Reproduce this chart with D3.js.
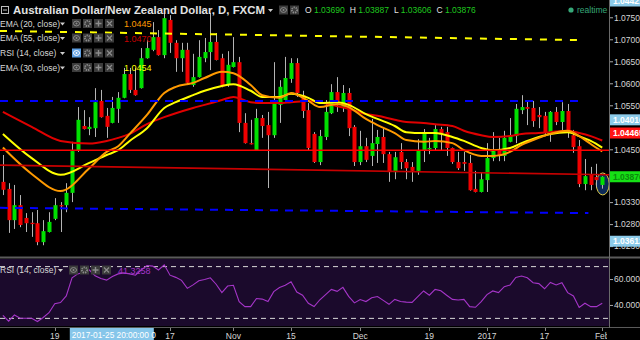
<!DOCTYPE html>
<html>
<head>
<meta charset="utf-8">
<script src="https://cdnjs.cloudflare.com/ajax/libs/d3/7.8.5/d3.min.js"></script>
<style>
body { margin: 0; background: #000; }
svg { display: block; }
text { font-family: "Liberation Sans", Arial, sans-serif; }
</style>
</head>
<body>
<div id="chart"></div>
<script>
// AUD/NZD daily candles
const opens = [1.0376, 1.0360, 1.0289, 1.0323, 1.0294, 1.0283, 1.0282, 1.0239, 1.0262, 1.0292,
    1.0323, 1.0323, 1.0351, 1.0448, 1.0503, 1.0496, 1.0498, 1.0560, 1.0526, 1.0510,
    1.0542, 1.0567, 1.0621, 1.0585, 1.0589, 1.0657, 1.0676, 1.0705, 1.0664, 1.0744,
    1.0692, 1.0657, 1.0676, 1.0596, 1.0614, 1.0657, 1.0671, 1.0694, 1.0657, 1.0596,
    1.0637, 1.0648, 1.0510, 1.0464, 1.0448, 1.0521, 1.0505, 1.0482, 1.0551, 1.0562,
    1.0610, 1.0646, 1.0573, 1.0539, 1.0485, 1.0421, 1.0478, 1.0532, 1.0580, 1.0546,
    1.0578, 1.0501, 1.0421, 1.0457, 1.0435, 1.0462, 1.0478, 1.0439, 1.0398, 1.0444,
    1.0421, 1.0410, 1.0401, 1.0448, 1.0451, 1.0453, 1.0496, 1.0489, 1.0453, 1.0421,
    1.0421, 1.0419, 1.0360, 1.0353, 1.0380, 1.0430, 1.0448, 1.0435, 1.0467, 1.0480,
    1.0539, 1.0546, 1.0544, 1.0528, 1.0526, 1.0489, 1.0535, 1.0512, 1.0537, 1.0482,
    1.0457, 1.0371, 1.0392, 1.0387, 1.03690]
const highs = [1.0437, 1.0373, 1.0369, 1.0346, 1.0305, 1.0307, 1.0312, 1.0289, 1.0307, 1.0339,
    1.0330, 1.0373, 1.0467, 1.0546, 1.0539, 1.0523, 1.0589, 1.0585, 1.0544, 1.0569,
    1.0580, 1.0635, 1.0635, 1.0635, 1.0680, 1.0698, 1.0739, 1.0721, 1.0760, 1.0755,
    1.0698, 1.0692, 1.0692, 1.0667, 1.0698, 1.0703, 1.0760, 1.0714, 1.0667, 1.0673,
    1.0705, 1.0660, 1.0532, 1.0517, 1.0542, 1.0528, 1.0535, 1.0648, 1.0607, 1.0660,
    1.0657, 1.0657, 1.0583, 1.0555, 1.0489, 1.0494, 1.0562, 1.0598, 1.0614, 1.0596,
    1.0589, 1.0505, 1.0492, 1.0476, 1.0519, 1.0494, 1.0498, 1.0444, 1.0444, 1.0464,
    1.0428, 1.0421, 1.0473, 1.0496, 1.0476, 1.0505, 1.0501, 1.0501, 1.0454, 1.0444,
    1.0444, 1.0437, 1.0401, 1.0398, 1.0464, 1.0489, 1.0476, 1.0492, 1.0521, 1.0553,
    1.0573, 1.0560, 1.0560, 1.0546, 1.0535, 1.0537, 1.0546, 1.0557, 1.0553, 1.0494,
    1.0471, 1.0428, 1.0410, 1.0417, 1.03887]
const lows = [1.0346, 1.0260, 1.0269, 1.0273, 1.0262, 1.0251, 1.0232, 1.0232, 1.0261, 1.0289,
    1.0262, 1.0307, 1.0330, 1.0444, 1.0495, 1.0482, 1.0478, 1.0522, 1.0476, 1.0509,
    1.0510, 1.0566, 1.0578, 1.0572, 1.0588, 1.0656, 1.0673, 1.0663, 1.0657, 1.0669,
    1.0626, 1.0626, 1.0596, 1.0592, 1.0613, 1.0648, 1.0630, 1.0652, 1.0591, 1.0592,
    1.0636, 1.0489, 1.0463, 1.0461, 1.0447, 1.0476, 1.0362, 1.0476, 1.0510, 1.0561,
    1.0601, 1.0569, 1.0521, 1.0448, 1.0419, 1.0414, 1.0471, 1.0530, 1.0535, 1.0535,
    1.0480, 1.0412, 1.0414, 1.0421, 1.0412, 1.0419, 1.0419, 1.0376, 1.0382, 1.0405,
    1.0382, 1.0376, 1.0392, 1.0421, 1.0439, 1.0448, 1.0448, 1.0435, 1.0417, 1.0403,
    1.0401, 1.0356, 1.0352, 1.0352, 1.0353, 1.0423, 1.0423, 1.0423, 1.0466, 1.0464,
    1.0530, 1.0505, 1.0501, 1.0498, 1.0480, 1.0467, 1.0505, 1.0489, 1.0476, 1.0442,
    1.0364, 1.0357, 1.0357, 1.0364, 1.03606]
const closes = [1.0358, 1.0289, 1.0323, 1.0278, 1.0282, 1.0280, 1.0239, 1.0264, 1.0285, 1.0323,
    1.0321, 1.0351, 1.0446, 1.0517, 1.0496, 1.0501, 1.0557, 1.0523, 1.0501, 1.0544,
    1.0567, 1.0621, 1.0585, 1.0573, 1.0657, 1.0680, 1.0705, 1.0664, 1.0748, 1.0692,
    1.0657, 1.0676, 1.0601, 1.0614, 1.0660, 1.0671, 1.0694, 1.0653, 1.0592, 1.0642,
    1.0648, 1.0510, 1.0464, 1.0462, 1.0521, 1.0503, 1.0482, 1.0553, 1.0592, 1.0612,
    1.0646, 1.0578, 1.0537, 1.0453, 1.0421, 1.0480, 1.0535, 1.0580, 1.0560, 1.0578,
    1.0498, 1.0421, 1.0457, 1.0426, 1.0464, 1.0478, 1.0439, 1.0398, 1.0432, 1.0421,
    1.0407, 1.0401, 1.0448, 1.0489, 1.0453, 1.0496, 1.0487, 1.0453, 1.0421, 1.0407,
    1.0417, 1.0357, 1.0353, 1.0382, 1.0430, 1.0446, 1.0437, 1.0476, 1.0482, 1.0542,
    1.0546, 1.0542, 1.0514, 1.0523, 1.0487, 1.0535, 1.0512, 1.0537, 1.0489, 1.0455,
    1.0371, 1.0389, 1.0369, 1.0380, 1.03876]

// moving averages, sampled at these candle indexes
const emaIdx = [0, 5, 10, 15, 18, 20, 22, 25, 28, 30, 33, 35, 38, 40, 43, 45, 48, 50, 53, 55,
    58, 60, 63, 65, 68, 70, 73, 75, 78, 80, 83, 85, 88, 90, 93, 95, 98, 100, 102, 104]
const ema20 = [1.0454, 1.0394, 1.0355, 1.0407, 1.0444, 1.0457, 1.0485, 1.0528, 1.0578, 1.0592,
    1.0601, 1.0612, 1.0626, 1.0623, 1.0596, 1.0573, 1.0567, 1.0578, 1.0560, 1.0546,
    1.0553, 1.0546, 1.0519, 1.0505, 1.0487, 1.0471, 1.0467, 1.0469, 1.0464, 1.0448,
    1.0435, 1.0435, 1.0444, 1.0460, 1.0476, 1.0485, 1.0492, 1.0480, 1.0462, 1.0445]
const ema30 = [1.0485, 1.0430, 1.0392, 1.0419, 1.0437, 1.0448, 1.0469, 1.0498, 1.0544, 1.0557,
    1.0573, 1.0583, 1.0594, 1.0598, 1.0583, 1.0569, 1.0569, 1.0576, 1.0567, 1.0555,
    1.0557, 1.0551, 1.0530, 1.0519, 1.0503, 1.0489, 1.0487, 1.0487, 1.0478, 1.0469,
    1.0453, 1.0448, 1.0453, 1.0464, 1.0478, 1.0485, 1.0489, 1.0480, 1.0469, 1.0454]
const ema55 = [1.0535, 1.0501, 1.0469, 1.0463, 1.0469, 1.0476, 1.0485, 1.0507, 1.0523, 1.0532,
    1.0544, 1.0551, 1.0562, 1.0569, 1.0557, 1.0555, 1.0555, 1.0557, 1.0560, 1.0557,
    1.0548, 1.0542, 1.0530, 1.0526, 1.0517, 1.0512, 1.0510, 1.0507, 1.0503, 1.0492,
    1.0482, 1.0478, 1.0480, 1.0485, 1.0487, 1.0489, 1.0492, 1.0487, 1.0480, 1.0470]

const rsi = [32, 27.5, 32.3, 29.7, 29.7, 29.7, 27.2, 30.3, 34, 41,
    41.8, 47, 61, 64, 65.3, 67, 62.5, 60.5, 59.2, 62,
    64, 64.8, 64, 63, 67, 70.5, 70, 67, 71, 63,
    61.3, 59, 52.8, 55.5, 58.7, 59.7, 61, 56, 49.5, 54.6,
    55.2, 42.6, 38.7, 38.7, 45, 44.5, 42.6, 50.3, 53.4, 55.2,
    57.9, 50, 47.5, 41.3, 38.8, 44, 48, 52, 50.5, 53.6,
    46.6, 41.6, 44.2, 42.6, 45.5, 46.5, 43.5, 40.5, 44.3, 42.6,
    42.2, 42, 46.4, 50.8, 47.5, 52, 51, 47.5, 44.3, 43.8,
    44.3, 38.7, 38.2, 42.6, 48, 50.8, 49.5, 54.1, 55.4, 61.3,
    62.3, 61, 57.2, 56.5, 52.5, 57.4, 55.4, 57.2, 49.5, 46.9,
    38, 41.3, 38.7, 38.7, 41.3258]

// drawn trend lines: [candle index, price] at each end
const yellowTrend = [[-0.5, 1.0719], [100.7, 1.0698]]
const blueUpper = [[-0.5, 1.0560], [100.7, 1.0560]]
const blueLower = [[-0.5, 1.0317], [101.6, 1.0305]]
const redLevel = [[-0.5, 1.0448], [106, 1.0448]]
const redSlope = [[-0.5, 1.0414], [106, 1.0392]]

const priceTicks = [1.075, 1.07, 1.065, 1.06, 1.055, 1.045, 1.033, 1.028, 1.023]
const rsiTicks = [60, 40]
const dateIdx = [9, 29, 40, 50, 62, 74, 84, 94, 104]
const dateLabels = ["19", "17", "Nov", "15", "Dec", "19", "2017", "17", "Feb"]
const badgeTexts = ["1.04421", "1.04016", "1.04465", "1.03876", "1.03612"]
const badgeAt = [1.0787, 1.0517, 1.0487, 1.03876, 1.0241]
const legendNames = ["EMA (20, close)", "EMA (55, close)", "RSI (14, close)", "EMA (30, close)"]

var width = 640, height = 340
var plotW = 609
var mainH = 256

var svg = d3.select("#chart").append("svg")
    .attr("width", width)
    .attr("height", height)

svg.append("rect").attr("width", width).attr("height", height).attr("fill", "#000")

var x = d3.scaleLinear().domain([-0.5, 105]).range([0, plotW - 1])
var y = d3.scaleLinear().domain([1.02075, 1.07893]).range([mainH, 0])
var yr = d3.scaleLinear().domain([24.5, 75.5]).range([325, 259])

svg.append("clipPath").attr("id", "mainClip")
    .append("rect").attr("width", plotW).attr("height", mainH)
svg.append("clipPath").attr("id", "rsiClip")
    .append("rect").attr("y", 259).attr("width", plotW).attr("height", 67)
svg.append("clipPath").attr("id", "dateClip")
    .append("rect").attr("y", 328).attr("width", plotW - 2).attr("height", 12)

var candles = opens.map((o, i) => ({ i: i, o: o, h: highs[i], l: lows[i], c: closes[i] }))

var main = svg.append("g").attr("clip-path", "url(#mainClip)")

// last candle marker
var last = candles[candles.length - 1]
main.append("ellipse")
    .attr("cx", x(last.i) + 0.5)
    .attr("cy", (y(last.h) + y(last.l)) / 2 + 1.5)
    .attr("rx", 6.5).attr("ry", 11)
    .attr("fill", "#0c2a57")
    .attr("stroke", "#e6d24a").attr("stroke-width", 1)

// wicks
main.selectAll(".wick")
    .data(candles)
    .enter().append("line")
    .attr("class", "wick")
    .attr("x1", d => Math.round(x(d.i)) + 0.5)
    .attr("x2", d => Math.round(x(d.i)) + 0.5)
    .attr("y1", d => y(d.h))
    .attr("y2", d => y(d.l))
    .attr("stroke", "#b4b4b4")
    .attr("stroke-width", 1)

// bodies
main.selectAll(".body")
    .data(candles)
    .enter().append("rect")
    .attr("class", "body")
    .attr("x", d => Math.round(x(d.i)) - 1.5)
    .attr("width", 4)
    .attr("y", d => y(Math.max(d.o, d.c)))
    .attr("height", d => Math.max(1.2, Math.abs(y(d.o) - y(d.c))))
    .attr("fill", d => d.c >= d.o ? "#00e000" : "#f00000")

// moving averages
var emaLine = d3.line()
    .x((d, k) => x(emaIdx[k]))
    .y(d => y(d))
    .curve(d3.curveMonotoneX)

var emas = [
    { values: ema55, color: "#e00000" },
    { values: ema30, color: "#ffff00" },
    { values: ema20, color: "#ff9a00" }
]
emas.forEach(e => {
    main.append("path")
        .attr("d", emaLine(e.values))
        .attr("fill", "none")
        .attr("stroke", e.color)
        .attr("stroke-width", 2)
})

// drawings
var seg = d3.line().x(d => x(d[0])).y(d => y(d[1]))
main.append("path").attr("d", seg(redLevel)).attr("stroke", "#ff0000").attr("stroke-width", 1.6).attr("fill", "none")
main.append("path").attr("d", seg(redSlope)).attr("stroke", "#c80000").attr("stroke-width", 1.6).attr("fill", "none")
main.append("path").attr("d", seg(yellowTrend)).attr("stroke", "#ffff00").attr("stroke-width", 2)
    .attr("stroke-dasharray", "7,8").attr("fill", "none")
main.append("path").attr("d", seg(blueUpper)).attr("stroke", "#0000ff").attr("stroke-width", 2)
    .attr("stroke-dasharray", "8,7").attr("fill", "none")
main.append("path").attr("d", seg(blueLower)).attr("stroke", "#0000ff").attr("stroke-width", 2)
    .attr("stroke-dasharray", "8,7").attr("fill", "none")

// RSI pane
svg.append("rect")
    .attr("x", 0).attr("y", 259).attr("width", plotW).attr("height", 67)
    .attr("fill", "#1b0a2c")

var rsiG = svg.append("g").attr("clip-path", "url(#rsiClip)")
;[70, 30].forEach(v => {
    rsiG.append("line")
        .attr("x1", 0).attr("x2", plotW)
        .attr("y1", yr(v) + 0.5).attr("y2", yr(v) + 0.5)
        .attr("stroke", "#d8d8d8").attr("stroke-width", 1)
        .attr("stroke-dasharray", "5,4")
})
rsiG.append("path")
    .attr("d", d3.line().x((d, i) => x(i)).y(d => yr(d))(rsi))
    .attr("fill", "none")
    .attr("stroke", "#a535c8")
    .attr("stroke-width", 1.1)

// frame lines
svg.append("line").attr("x1", 0).attr("x2", width).attr("y1", 257.5).attr("y2", 257.5)
    .attr("stroke", "#5a5a5a").attr("stroke-width", 2)
svg.append("line").attr("x1", 0).attr("x2", width).attr("y1", 327.5).attr("y2", 327.5)
    .attr("stroke", "#5a5a5a").attr("stroke-width", 1)
svg.append("line").attr("x1", plotW + 0.5).attr("x2", plotW + 0.5).attr("y1", 0).attr("y2", 328)
    .attr("stroke", "#6a6a6a").attr("stroke-width", 1)

// price axis
var fmt5 = d3.format(".5f")
var yAxisCall = d3.axisRight(y)
    .tickValues(priceTicks)
    .tickSize(3)
    .tickFormat(fmt5)
var yAxis = svg.append("g")
    .attr("transform", "translate(" + (plotW + 1) + ",0)")
    .call(yAxisCall)
yAxis.select(".domain").remove()
yAxis.selectAll("line").attr("stroke", "#aaa")
yAxis.selectAll("text")
    .attr("x", 4)
    .attr("fill", "#d6d6d6")
    .style("font-size", "8.5px")
    .style("font-family", "Liberation Sans, Arial, sans-serif")

var rsiAxisCall = d3.axisRight(yr)
    .tickValues(rsiTicks)
    .tickSize(3)
    .tickFormat(d3.format(".4f"))
var rsiAxis = svg.append("g")
    .attr("transform", "translate(" + (plotW + 1) + ",0)")
    .call(rsiAxisCall)
rsiAxis.select(".domain").remove()
rsiAxis.selectAll("line").attr("stroke", "#aaa")
rsiAxis.selectAll("text")
    .attr("x", 4)
    .attr("fill", "#d6d6d6")
    .style("font-size", "8.5px")
    .style("font-family", "Liberation Sans, Arial, sans-serif")

// value badges on the price axis
var badgeStyle = [
    { fill: "#8ccbea", text: "#ffffff" },
    { fill: "#8ccbea", text: "#ffffff" },
    { fill: "#ff1414", text: "#ffffff" },
    { fill: "#16e016", text: "#0c8a0c" },
    { fill: "#8ccbea", text: "#ffffff" }
]
var badge = svg.selectAll(".badge")
    .data(badgeTexts)
    .enter().append("g")
    .attr("class", "badge")
    .attr("transform", (d, i) => "translate(" + (plotW + 1) + "," + y(badgeAt[i]) + ")")
badge.append("rect")
    .attr("x", 0).attr("y", -5.5).attr("width", 31).attr("height", 11)
    .attr("fill", (d, i) => badgeStyle[i].fill)
badge.append("text")
    .attr("x", 3).attr("y", 3)
    .attr("fill", (d, i) => badgeStyle[i].text)
    .style("font-size", "8.5px")
    .style("font-weight", "bold")
    .text(d => d)

// date axis
var xAxis = svg.append("g").attr("clip-path", "url(#dateClip)")
xAxis.selectAll("line")
    .data(dateIdx)
    .enter().append("line")
    .attr("x1", d => Math.round(x(d)) + 0.5).attr("x2", d => Math.round(x(d)) + 0.5)
    .attr("y1", 328).attr("y2", 331)
    .attr("stroke", "#888")
xAxis.selectAll("text")
    .data(dateLabels)
    .enter().append("text")
    .attr("x", (d, i) => x(dateIdx[i]))
    .attr("y", 338.5)
    .attr("text-anchor", "middle")
    .attr("fill", "#d6d6d6")
    .style("font-size", "8.5px")
    .text(d => d)

// crosshair date label
var cross = svg.append("g").attr("transform", "translate(" + x(18.9) + ",0)")
cross.append("rect").attr("x", -42).attr("y", 328).attr("width", 84).attr("height", 12).attr("fill", "#86c6ea")
cross.append("text").attr("x", -40).attr("y", 337.5).attr("fill", "#fff")
    .style("font-size", "8.3px").text("2017-01-25 20:00:00 0")

// header
var head = svg.append("g")
head.append("rect").attr("x", 1.5).attr("y", 6.5).attr("width", 7).attr("height", 7)
    .attr("fill", "none").attr("stroke", "#bbb")
head.append("line").attr("x1", 3).attr("x2", 7).attr("y1", 10).attr("y2", 10).attr("stroke", "#bbb")
head.append("text")
    .attr("x", 13).attr("y", 14)
    .attr("fill", "#e2e2e2")
    .style("font-size", "11.4px")
    .style("font-weight", "bold")
    .text("Australian Dollar/New Zealand Dollar, D, FXCM")

function arrow(g, ax, ay) {
    g.append("path")
        .attr("d", "M" + ax + "," + ay + "l5,0l-2.5,3z")
        .attr("fill", "#ccc")
}
arrow(head, 268, 9)

function addIcons(g, x0, yc, n, active) {
    for (var k = 0; k < n; k++) {
        var ix = x0 + k * 11
        var on = active && k == 0
        var c = on ? "#ffffff" : "#8c8c8c"
        g.append("rect")
            .attr("x", ix).attr("y", yc - 4.5).attr("width", 9).attr("height", 9)
            .attr("fill", on ? "#5d9ee2" : "#3b3b3b")
        var cx = ix + 4.5
        if (k == 0) {
            g.append("ellipse").attr("cx", cx).attr("cy", yc).attr("rx", 3).attr("ry", 2.4)
                .attr("fill", "none").attr("stroke", c).attr("stroke-width", 1)
            g.append("circle").attr("cx", cx).attr("cy", yc).attr("r", 1).attr("fill", c)
        } else if (k == 1) {
            g.append("circle").attr("cx", cx).attr("cy", yc).attr("r", 2.6)
                .attr("fill", "none").attr("stroke", c).attr("stroke-width", 1.8)
                .attr("stroke-dasharray", "1.3,0.9")
        } else if (k == 2) {
            g.append("path").attr("d", "M" + (cx - 3) + "," + yc + "h6M" + cx + "," + (yc - 3) + "v6")
                .attr("stroke", c).attr("stroke-width", 1.4)
        } else {
            g.append("path").attr("d", "M" + (cx - 2.5) + "," + (yc - 2.5) + "l5,5M" + (cx + 2.5) + "," + (yc - 2.5) + "l-5,5")
                .attr("stroke", c).attr("stroke-width", 1.2)
        }
    }
}
addIcons(head, 279, 10, 2, false)

// OHLC readout for the last candle
var ohlc = head.append("text").attr("x", 305).attr("y", 13).style("font-size", "8.5px")
;[["O", last.o], ["H", last.h], ["L", last.l], ["C", last.c]].forEach((p, k) => {
    ohlc.append("tspan").attr("fill", "#e0e0e0").attr("dx", k ? 5 : 0).text(p[0] + " ")
    ohlc.append("tspan").attr("fill", "#1fc81f").text(fmt5(p[1]))
})
head.append("circle").attr("cx", 571).attr("cy", 10).attr("r", 2.6).attr("fill", "#36a878")
head.append("text").attr("x", 577).attr("y", 13).attr("fill", "#36a878")
    .style("font-size", "8.5px").text("realtime")

// indicator legends
var legendColors = ["#ff9a00", "#c80000", null, "#ffff00"]
var legendValues = [ema20[ema20.length - 1], ema55[ema55.length - 1], null, ema30[ema30.length - 1]]
var legend = svg.selectAll(".legend")
    .data(legendNames)
    .enter().append("g")
    .attr("class", "legend")
    .attr("transform", (d, i) => "translate(0," + [23.5, 38, 53, 67.5][i] + ")")
legend.append("text")
    .attr("x", 0).attr("y", 3)
    .attr("fill", "#d8d8d8")
    .style("font-size", "8.5px")
    .text(d => d)
legend.each(function (d, i) {
    var g = d3.select(this)
    arrow(g, 60, -1)
    addIcons(g, 72, 0, 4, i == 2)
    if (legendValues[i] != null) {
        g.append("text").attr("x", 124).attr("y", 3.5)
            .attr("fill", legendColors[i])
            .style("font-size", "9px")
            .text(d3.format(".4f")(legendValues[i]))
    }
})

// RSI legend
var rsiLegend = svg.append("g").attr("transform", "translate(0,270)")
rsiLegend.append("text").attr("x", 0).attr("y", 3).attr("fill", "#d8d8d8")
    .style("font-size", "8.5px").text(legendNames[2])
arrow(rsiLegend, 58, -1)
addIcons(rsiLegend, 69, 0, 4, false)
rsiLegend.append("text").attr("x", 118).attr("y", 3.5).attr("fill", "#a535c8")
    .style("font-size", "9px").text(d3.format(".4f")(rsi[rsi.length - 1]))
</script>
</body>
</html>
